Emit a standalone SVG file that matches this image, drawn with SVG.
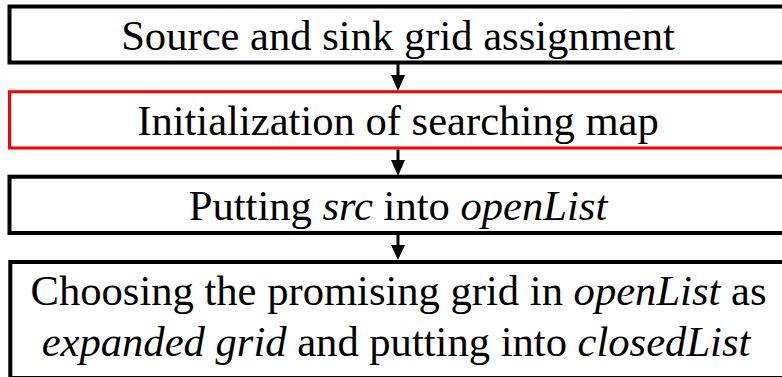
<svg xmlns="http://www.w3.org/2000/svg" width="782" height="377" viewBox="0 0 782 377">
  <style>
    .box { fill: #ffffff; stroke: #000000; stroke-width: 4; }
    .box.hl { stroke: #ff0000; stroke-width: 3; }
    .lbl { font-family: 'Liberation Serif', serif; font-size: 42.6px; fill: #000000; text-anchor: middle; }
    .it { font-style: italic; }
    .conn { stroke: #000000; stroke-width: 3; fill: none; }
    .head { fill: #000000; }
  </style>
  <rect width="782" height="377" fill="#ffffff"/>

  <g id="connectors">
    <line class="conn" x1="398" y1="64" x2="398" y2="76"/>
    <path class="head" d="M391,75 L405,75 L398,91 Z"/>
    <line class="conn" x1="398" y1="149.5" x2="398" y2="161"/>
    <path class="head" d="M391,160 L405,160 L398,176 Z"/>
    <line class="conn" x1="398" y1="235" x2="398" y2="246"/>
    <path class="head" d="M391,245 L405,245 L398,260 Z"/>
  </g>

  <g id="grid-assignment">
    <rect class="box" x="9.5" y="6.5" width="780" height="56"/>
    <text class="lbl" x="398" y="50">Source and sink grid assignment</text>
  </g>

  <g id="map-init">
    <rect class="box hl" x="9.5" y="91.7" width="780" height="56.3"/>
    <text class="lbl" x="398" y="135">Initialization of searching map</text>
  </g>

  <g id="put-src">
    <rect class="box" x="9.5" y="176.7" width="780" height="56.3"/>
    <text class="lbl" x="398" y="220">Putting <tspan class="it">src</tspan> into <tspan class="it">openList</tspan></text>
  </g>

  <g id="expand-grid">
    <rect class="box" x="10.3" y="262" width="780" height="116"/>
    <text class="lbl" x="398.5" y="305">Choosing the promising grid in <tspan class="it">openList</tspan> as</text>
    <text class="lbl" x="396" y="356"><tspan class="it">expanded grid</tspan> and putting into <tspan class="it">closedList</tspan></text>
  </g>
</svg>
